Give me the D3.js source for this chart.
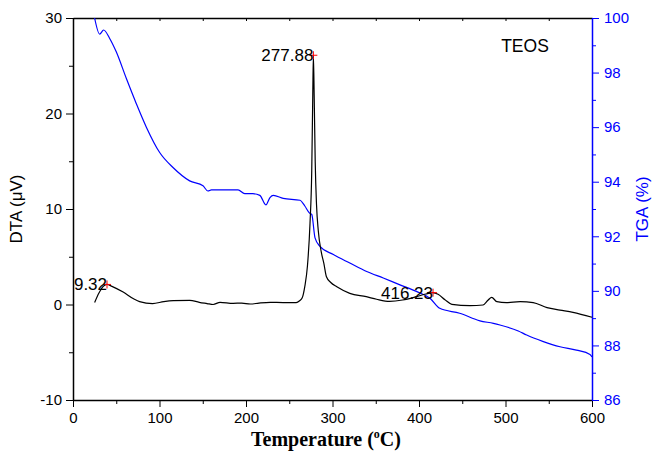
<!DOCTYPE html>
<html>
<head>
<meta charset="utf-8">
<script src="https://cdn.jsdelivr.net/npm/d3@7"></script>
<style>
  body { margin: 0; background: #fff; }
  text { font-family: "Liberation Sans", Arial, sans-serif; }
</style>
</head>
<body>
<div id="chart"></div>
<script>
// DTA curve (temperature in C, signal in uV)
const dtaTemp = [25, 30, 35, 39.3, 45, 58, 70, 77, 92, 105, 116, 135, 146, 155, 162, 170, 185, 195, 205, 215, 228, 243, 258, 262, 265, 268, 271, 274, 276, 277.2, 277.9, 278.8, 280, 281.5, 283.6, 287, 290, 293, 298, 305, 320, 339, 351, 366, 381, 397, 408, 416, 422, 430, 438, 459, 474, 480, 484, 490, 501, 517, 532, 548, 563, 578, 600];
const dtaValue = [0.2, 1.2, 1.9, 2.1, 1.9, 1.3, 0.6, 0.3, 0.1, 0.3, 0.4, 0.44, 0.23, 0.1, 0.0, 0.23, 0.12, 0.15, 0.05, 0.15, 0.23, 0.2, 0.2, 0.4, 0.7, 1.9, 4, 8.5, 14, 22, 26.1, 22, 15, 10.5, 7.7, 5.5, 4.3, 2.9, 2.3, 1.86, 1.17, 0.82, 0.55, 0.33, 0.47, 0.82, 1.1, 1.24, 1.07, 0.5, 0.02, -0.12, -0.05, 0.47, 0.75, 0.3, 0.2, 0.3, 0.2, -0.33, -0.58, -0.82, -1.34];

// TGA curve (temperature in C, mass in %)
const tgaTemp = [25, 30.8, 35.4, 42.4, 50, 61.7, 73.2, 84.8, 100.2, 115.6, 134.9, 150.3, 156, 160, 190.8, 198.5, 208, 216, 223, 227.7, 231.6, 243, 262.4, 268, 273.2, 276, 279.8, 285.5, 301, 320, 339.5, 358.7, 378, 397, 412.7, 424, 447, 470.5, 486, 493.6, 514.8, 524.5, 543, 563, 582, 597.7, 600];
const tgaValue = [100, 99.41, 99.56, 99.25, 98.76, 97.78, 96.86, 96.0, 95.07, 94.52, 94.03, 93.85, 93.66, 93.7, 93.7, 93.56, 93.56, 93.5, 93.15, 93.42, 93.5, 93.39, 93.32, 93.11, 92.86, 92.8, 91.94, 91.63, 91.33, 91.02, 90.71, 90.47, 90.22, 89.98, 89.73, 89.36, 89.18, 88.9, 88.81, 88.75, 88.53, 88.38, 88.15, 87.95, 87.83, 87.67, 87.58];

// labelled DTA peaks
const peakTemp = [39.32, 277.88, 416.23];
const peakValue = [2.1, 26.1, 1.24];
const peakLabel = ["39.32", "277.88", "416.23"];

const xTicks = [0, 100, 200, 300, 400, 500, 600];
const xMinor = [50, 150, 250, 350, 450, 550];
const dtaTicks = [-10, 0, 10, 20, 30];
const dtaMinor = [-5, 5, 15, 25];
const tgaTicks = [86, 88, 90, 92, 94, 96, 98, 100];
const tgaMinor = [87, 89, 91, 93, 95, 97, 99];

const W = 656, H = 468;
const margin = {top: 18, right: 64, bottom: 68, left: 73};
const width = W - margin.left - margin.right,
      height = H - margin.top - margin.bottom;

const svg = d3.select("#chart").append("svg")
    .attr("width", W)
    .attr("height", H);

const g = svg.append("g")
    .attr("transform", `translate(${margin.left},${margin.top})`);

const x = d3.scaleLinear().domain([0, 600]).range([0, width]);
const y = d3.scaleLinear().domain([-10, 30]).range([height, 0]);
const y2 = d3.scaleLinear().domain([86, 100]).range([height, 0]);

g.append("clipPath").attr("id", "plot")
  .append("rect").attr("width", width).attr("height", height + 2).attr("y", -2);

// bottom axis, majors and minors
g.append("g")
    .attr("transform", `translate(0,${height})`)
    .call(d3.axisBottom(x).tickValues(xTicks).tickSize(7).tickSizeOuter(0).tickPadding(5))
    .call(a => a.selectAll("text").attr("font-size", 15))
    .call(a => a.select(".domain").attr("stroke-width", 1.5));
g.append("g")
    .attr("transform", `translate(0,${height})`)
    .call(d3.axisBottom(x).tickValues(xMinor).tickSize(4).tickFormat(""))
    .call(a => a.select(".domain").remove());

// top frame line with small inward ticks
g.append("g")
    .call(d3.axisBottom(x).tickValues(xTicks.concat(xMinor)).tickSize(3).tickSizeOuter(0).tickFormat(""))
    .call(a => a.select(".domain").attr("stroke-width", 1.5));

// left axis (DTA), plain hyphen for negatives
g.append("g")
    .call(d3.axisLeft(y).tickValues(dtaTicks).tickSize(7).tickSizeOuter(0).tickPadding(4).tickFormat(d => String(d)))
    .call(a => a.selectAll("text").attr("font-size", 15))
    .call(a => a.select(".domain").attr("stroke-width", 1.5));
g.append("g")
    .call(d3.axisLeft(y).tickValues(dtaMinor).tickSize(4).tickFormat(""))
    .call(a => a.select(".domain").remove());

// right axis (TGA), blue
g.append("g")
    .attr("transform", `translate(${width},0)`)
    .call(d3.axisRight(y2).tickValues(tgaTicks).tickSize(7).tickSizeOuter(0).tickPadding(5))
    .call(a => a.selectAll("text").attr("font-size", 15).attr("fill", "#0000ff"))
    .call(a => a.selectAll("line").attr("stroke", "#0000ff"))
    .call(a => a.select(".domain").attr("stroke", "#0000ff").attr("stroke-width", 1.5));
g.append("g")
    .attr("transform", `translate(${width},0)`)
    .call(d3.axisRight(y2).tickValues(tgaMinor).tickSize(4).tickFormat(""))
    .call(a => a.selectAll("line").attr("stroke", "#0000ff"))
    .call(a => a.select(".domain").remove());

// curves
const dta = dtaTemp.map((t, i) => [t, dtaValue[i]]);
const tga = tgaTemp.map((t, i) => [t, tgaValue[i]]);

g.append("path")
    .datum(tga)
    .attr("fill", "none")
    .attr("stroke", "#0000ff")
    .attr("stroke-width", 1.2)
    .attr("d", d3.line().x(d => x(d[0])).y(d => y2(d[1])).curve(d3.curveMonotoneX));

g.append("path")
    .datum(dta)
    .attr("fill", "none")
    .attr("stroke", "#000")
    .attr("stroke-width", 1.2)
    .attr("d", d3.line().x(d => x(d[0])).y(d => y(d[1])).curve(d3.curveMonotoneX));

// peak markers and labels
const peaks = g.append("g").attr("clip-path", "url(#plot)");
peakTemp.forEach((t, i) => {
    const px = x(t), py = y(peakValue[i]);
    peaks.append("path")
        .attr("d", `M${px - 4},${py}H${px + 4}M${px},${py - 4}V${py + 4}`)
        .attr("stroke", "#ff0000")
        .attr("stroke-width", 1);
    peaks.append("text")
        .attr("x", px)
        .attr("y", py + 6)
        .attr("text-anchor", "end")
        .attr("font-size", 17)
        .text(peakLabel[i]);
});

// sample name
g.append("text")
    .attr("x", x(495))
    .attr("y", 34)
    .attr("font-size", 17.5)
    .text("TEOS");

// axis titles
svg.append("text")
    .attr("transform", `translate(22,${margin.top + y(10)}) rotate(-90)`)
    .attr("text-anchor", "middle")
    .attr("font-size", 17)
    .text("DTA (μV)");

svg.append("text")
    .attr("transform", `translate(648,${margin.top + y2(93)}) rotate(-90)`)
    .attr("text-anchor", "middle")
    .attr("font-size", 17)
    .attr("fill", "#0000ff")
    .text("TGA (%)");

const xt = svg.append("text")
    .attr("x", 326)
    .attr("y", 446)
    .attr("text-anchor", "middle")
    .attr("font-size", 20)
    .attr("font-weight", "bold")
    .style("font-family", "'Liberation Serif', 'Times New Roman', serif");
xt.append("tspan").text("Temperature (");
xt.append("tspan").attr("dy", -8).attr("font-size", 12).text("o");
xt.append("tspan").attr("dy", 8).text("C)");
</script>
</body>
</html>
